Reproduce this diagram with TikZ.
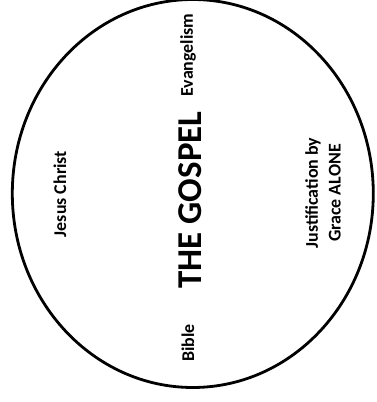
\documentclass[tikz,border=0pt]{standalone}
\usepackage{fontspec}
\setmainfont{Carlito}
\begin{document}
\begin{tikzpicture}[x=1bp,y=-1bp,
  lbl/.style={font=\bfseries\fontsize{18}{23}\selectfont, rotate=90, inner sep=0pt, align=center},
  title/.style={font=\bfseries\fontsize{35}{40}\selectfont, rotate=90, inner sep=0pt}]
\useasboundingbox (0,0) rectangle (377,402);
\begin{scope}
\clip (0,0) rectangle (377,402);
\draw[line width=2.8bp] (192.8,193.5) ellipse [x radius=180.5, y radius=194];
\end{scope}
\node[title] (gospel) at (190,200) {THE GOSPEL};
\node[lbl] (evang) at (188,55) {Evangelism};
\node[lbl] (bible) at (188,343) {Bible};
\node[lbl] (jesus) at (60,194) {Jesus Christ};
\node[lbl] (just) at (323,193) {Justification by\\Grace ALONE};
\end{tikzpicture}
\end{document}
